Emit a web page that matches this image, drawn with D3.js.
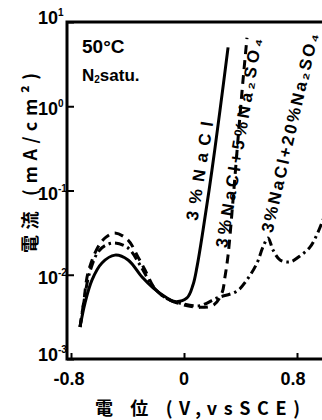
<!DOCTYPE html>
<html>
<head>
<meta charset="utf-8">
<script src="https://cdn.jsdelivr.net/npm/d3@7"></script>
<style>
  html, body { margin: 0; padding: 0; background: #fff; }
  svg { display: block; font-family: "Liberation Sans", "DejaVu Sans", sans-serif; }
</style>
</head>
<body>
<div id="chart"></div>
<script>
// potential (V vs SCE) and current density (mA/cm2)
const potNaCl = [-0.736, -0.701, -0.651, -0.581, -0.489, -0.396, -0.297, -0.219, -0.120, -0.064, 0.021, 0.064, 0.092, 0.135, 0.198, 0.255, 0.312];
const curNaCl = [0.0024, 0.0046, 0.0087, 0.0138, 0.0171, 0.0150, 0.0094, 0.0070, 0.0053, 0.0048, 0.0053, 0.0076, 0.0124, 0.034, 0.175, 0.90, 5.0];

const pot5 = [-0.736, -0.708, -0.680, -0.609, -0.552, -0.489, -0.396, -0.326, -0.276, -0.205, -0.120, -0.007, 0.113, 0.212, 0.269, 0.290, 0.312, 0.347, 0.382, 0.418, 0.446];
const cur5 = [0.0024, 0.0050, 0.0105, 0.0213, 0.028, 0.0313, 0.0258, 0.0163, 0.0114, 0.0068, 0.0052, 0.0044, 0.0041, 0.0044, 0.0061, 0.0094, 0.0171, 0.077, 0.40, 2.05, 6.5];

const pot20 = [-0.736, -0.708, -0.673, -0.609, -0.552, -0.489, -0.396, -0.312, -0.219, -0.120, -0.007, 0.113, 0.234, 0.375, 0.446, 0.517, 0.559, 0.595, 0.630, 0.680, 0.750, 0.821, 0.892, 0.949, 1.005];
const cur20 = [0.0024, 0.0048, 0.0099, 0.0186, 0.0225, 0.0238, 0.0208, 0.0131, 0.0072, 0.0052, 0.0045, 0.0043, 0.0053, 0.0064, 0.0087, 0.0138, 0.0213, 0.0273, 0.0197, 0.0150, 0.0142, 0.0167, 0.0213, 0.0321, 0.0556];

const seriesNames = ['3%NaCl', '3%NaCl+5%Na₂SO₄', '3%NaCl+20%Na₂SO₄'];
const xTicks = [-0.8, 0, 0.8];
const xTickLabels = ['-0.8', '0', '0.8'];
const yTicks = [1e-3, 1e-2, 1e-1, 1, 10];
const yExponents = ['-3', '-2', '-1', '0', '1'];

const width = 322, height = 420;
const frame = { left: 67, top: 22, bottom: 359, right: 340 };

const svg = d3.select('#chart').append('svg')
  .attr('width', width)
  .attr('height', height);

const x = d3.scaleLinear().domain([-0.8, 0.8]).range([71, 297]);
const y = d3.scaleLog().domain([1e-3, 10]).range([frame.bottom, frame.top]);

// frame (right side runs off the page like the scan)
svg.append('path')
  .attr('d', `M${frame.right},${frame.top}H${frame.left}V${frame.bottom}H${frame.right}`)
  .attr('fill', 'none')
  .attr('stroke', '#000')
  .attr('stroke-width', 3);

// inward ticks
const yAxis = svg.append('g')
  .attr('transform', `translate(${frame.left},0)`)
  .call(d3.axisLeft(y).tickValues(yTicks).tickSize(-7).tickSizeOuter(0).tickFormat(''));
yAxis.select('.domain').remove();
yAxis.selectAll('line').attr('stroke-width', 2);

const xAxis = svg.append('g')
  .attr('transform', `translate(0,${frame.bottom})`)
  .call(d3.axisBottom(x).tickValues(xTicks).tickSize(-6).tickSizeOuter(0).tickFormat(''));
xAxis.select('.domain').remove();
xAxis.selectAll('line').attr('stroke-width', 2);

// y tick labels 10^n
svg.append('g')
  .selectAll('text')
  .data(yTicks)
  .join('text')
  .attr('x', 58)
  .attr('y', (d, i) => y(d) + (i === 4 || i === 0 ? 2 : 9))
  .attr('text-anchor', 'end')
  .style('font-size', '18px')
  .style('font-weight', 'bold')
  .text('10');
svg.append('g')
  .selectAll('text')
  .data(yTicks)
  .join('text')
  .attr('x', 58)
  .attr('y', (d, i) => y(d) + (i === 4 || i === 0 ? -6 : 1))
  .style('font-size', '10px')
  .style('font-weight', 'bold')
  .text((d, i) => yExponents[i]);

// x tick labels
svg.append('g')
  .selectAll('text')
  .data(xTicks)
  .join('text')
  .attr('x', (d, i) => x(d) + (i === 0 ? -2 : i === 2 ? -4 : 0))
  .attr('y', 385)
  .attr('text-anchor', 'middle')
  .style('font-size', '18px')
  .style('font-weight', 'bold')
  .text((d, i) => xTickLabels[i]);

// curves
const line = d3.line()
  .x(d => x(d[0]))
  .y(d => y(d[1]))
  .curve(d3.curveCatmullRom.alpha(0.5));

const curves = [
  { pts: d3.zip(potNaCl, curNaCl), dash: null },
  { pts: d3.zip(pot5, cur5), dash: '9,6' },
  { pts: d3.zip(pot20, cur20), dash: '9,4,2.5,4' }
];

svg.append('g')
  .selectAll('path')
  .data(curves)
  .join('path')
  .attr('d', d => line(d.pts))
  .attr('fill', 'none')
  .attr('stroke', '#000')
  .attr('stroke-width', 3)
  .attr('stroke-linecap', 'butt')
  .attr('stroke-dasharray', d => d.dash);

// curve labels, rotated along the lines
const labelPos = [
  { cx: 200, cy: 171, angle: -81, len: 100 },
  { cx: 239, cy: 143, angle: -80.5, len: 212 },
  { cx: 290, cy: 133, angle: -77, len: 204 }
];
svg.append('g')
  .selectAll('text')
  .data(labelPos)
  .join('text')
  .attr('transform', d => `translate(${d.cx},${d.cy}) rotate(${d.angle})`)
  .attr('text-anchor', 'middle')
  .attr('dominant-baseline', 'central')
  .attr('textLength', d => d.len)
  .attr('lengthAdjust', 'spacing')
  .style('font-size', '17px')
  .style('font-weight', 'bold')
  .text((d, i) => seriesNames[i]);

// condition note
svg.append('text')
  .attr('x', 82).attr('y', 53)
  .style('font-size', '19px')
  .style('font-weight', 'bold')
  .text('50°C');
const note = svg.append('text')
  .attr('x', 82).attr('y', 81)
  .style('font-size', '17px')
  .style('font-weight', 'bold');
note.append('tspan').text('N');
note.append('tspan').attr('dy', 2).style('font-size', '10px').text('2');
note.append('tspan').attr('dy', -2).text('satu.');

// axis titles
svg.append('text')
  .attr('x', 95).attr('y', 415)
  .attr('textLength', 205)
  .attr('lengthAdjust', 'spacing')
  .style('font-family', '"Noto Sans CJK JP", sans-serif')
  .style('font-size', '18px')
  .style('font-weight', 'bold')
  .text('電 位 (V,vsSCE)');

svg.append('text')
  .attr('transform', 'translate(29,253) rotate(-90)')
  .attr('dominant-baseline', 'central')
  .attr('textLength', 180)
  .attr('lengthAdjust', 'spacing')
  .style('font-family', '"Noto Sans CJK JP", sans-serif')
  .style('font-size', '18px')
  .style('font-weight', 'bold')
  .text('電流 (mA/cm²)');
</script>
</body>
</html>
